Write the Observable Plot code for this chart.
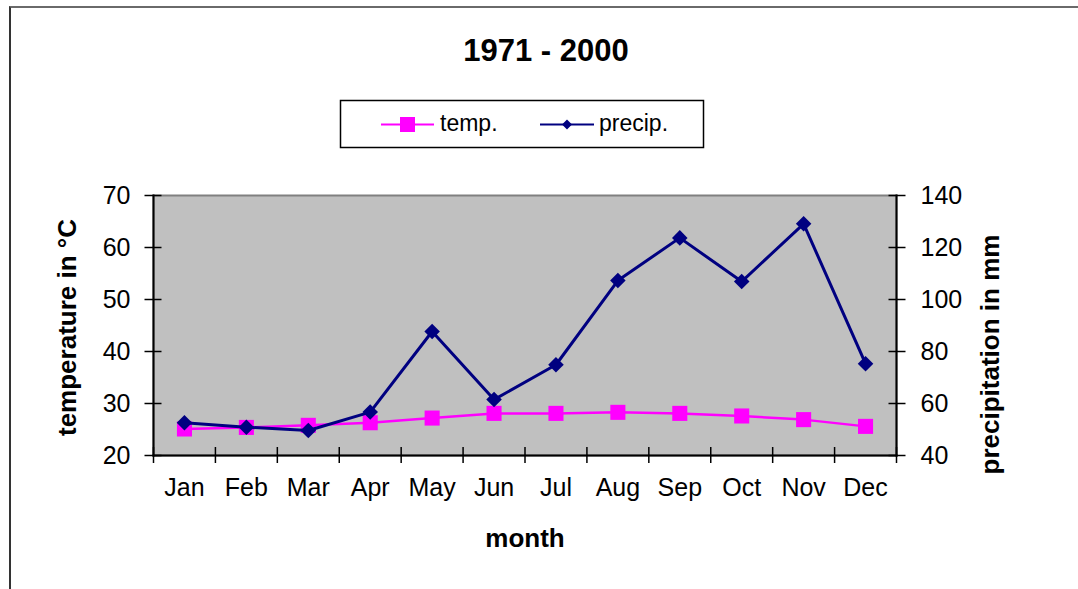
<!DOCTYPE html>
<html><head><meta charset="utf-8">
<script src="https://cdn.jsdelivr.net/npm/d3@7"></script>
<script src="https://cdn.jsdelivr.net/npm/@observablehq/plot@0.6"></script>
<style>
body{margin:0;background:#fff;font-family:"Liberation Sans",Arial,sans-serif;}
#wrap{position:relative;width:1078px;height:589px;overflow:hidden;}
#border{position:absolute;left:9px;top:6px;width:1200px;height:700px;border-top:2px solid #6a6a6a;border-left:2px solid #333;box-sizing:border-box;}
#chart{position:absolute;left:0;top:0;}
</style></head>
<body>
<div id="wrap"><div id="border"></div><div id="chart"></div></div>
<script>
// ---- data ----
const months = ["Jan","Feb","Mar","Apr","May","Jun","Jul","Aug","Sep","Oct","Nov","Dec"];
const temp   = [25.1, 25.4, 25.8, 26.3, 27.2, 28.1, 28.1, 28.3, 28.1, 27.6, 26.9, 25.6];
const precip = [52.6, 50.9, 49.6, 56.7, 87.7, 61.5, 74.9, 107.3, 123.7, 106.9, 129.1, 75.3];
const tempTicks   = [20, 30, 40, 50, 60, 70];
const precipTicks = [40, 60, 80, 100, 120, 140];
const title = "1971 - 2000";
const seriesNames = ["temp.", "precip."];
const yLabelLeft = "temperature in °C";
const yLabelRight = "precipitation in mm";
const xLabel = "month";

const tempColor = "#FF00FF";
const precipColor = "#000080";

// precipitation axis (40..140) maps linearly onto temperature axis (20..70)
const toLeft = p => 20 + (p - 40) / 2;

const rows = months.map((m, i) => ({month: m, idx: i + 0.5, temp: temp[i], precip: precip[i]}));
const boundaries = d3.range(months.length + 1);
const centers = months.map((m, i) => i + 0.5);
const precipTickPos = precipTicks.map(toLeft);

const txt = {textAnchor: "middle", lineAnchor: "middle", fontWeight: "bold", text: d => d};

const plot = Plot.plot({
  width: 1078, height: 589,
  marginLeft: 153, marginRight: 182, marginTop: 195, marginBottom: 134,
  style: {fontFamily: "'Liberation Sans', Arial, sans-serif", fontSize: "25px", background: "transparent", color: "#000"},
  x: {type: "linear", domain: [0, months.length], axis: null},
  y: {domain: [20, 70], axis: null},
  marks: [
    Plot.frame({fill: "#C0C0C0", stroke: "#808080", strokeWidth: 2}),
    Plot.frame({anchor: "left", stroke: "#000", strokeWidth: 2}),
    Plot.frame({anchor: "bottom", stroke: "#000", strokeWidth: 2}),
    Plot.frame({anchor: "right", stroke: "#000", strokeWidth: 2}),
    // left axis: crossing ticks + labels
    Plot.axisY({anchor: "left", ticks: tempTicks, tickSize: 17, dx: 8.5, tickFormat: () => "", label: null, strokeWidth: 1.5}),
    Plot.axisY({anchor: "left", ticks: tempTicks, tickSize: 0, tickPadding: 23, fontSize: 25, label: null}),
    // right axis (precipitation)
    Plot.axisY({anchor: "right", ticks: precipTickPos, tickSize: 17, dx: -8.5, tickFormat: () => "", label: null, strokeWidth: 1.5}),
    Plot.axisY({anchor: "right", ticks: precipTickPos, tickSize: 0, tickPadding: 24, fontSize: 25, label: null,
      tickFormat: t => String(precipTicks[precipTickPos.indexOf(t)])}),
    // x axis: boundary ticks + month labels
    Plot.axisX({anchor: "bottom", ticks: boundaries, tickSize: 16, dy: -8, tickFormat: () => "", label: null, strokeWidth: 1.5}),
    Plot.axisX({anchor: "bottom", ticks: centers, tickSize: 0, tickPadding: 23, fontSize: 25, label: null,
      tickFormat: v => months[Math.floor(v)]}),
    // axis titles
    Plot.text([yLabelLeft], {...txt, frameAnchor: "left", rotate: -90, dx: -86, dy: 2, fontSize: 26}),
    Plot.text([yLabelRight], {...txt, frameAnchor: "right", rotate: -90, dx: 94, dy: 29, fontSize: 26}),
    Plot.text([xLabel], {...txt, frameAnchor: "bottom", dy: 83, fontSize: 26}),
    Plot.text([title], {...txt, frameAnchor: "top", dx: 21, dy: -144, fontSize: 31}),
    // series
    Plot.line(rows, {x: "idx", y: "temp", stroke: tempColor, strokeWidth: 2.5}),
    Plot.dot(rows, {x: "idx", y: "temp", symbol: "square", r: 8.5, fill: tempColor, stroke: "none"}),
    Plot.line(rows, {x: "idx", y: d => toLeft(d.precip), stroke: precipColor, strokeWidth: 3}),
    Plot.dot(rows, {x: "idx", y: d => toLeft(d.precip), symbol: "square", rotate: 45, r: 6.2, fill: precipColor, stroke: "none"})
  ]
});
document.getElementById("chart").appendChild(plot);

// legend box (drawn into the same SVG)
const svg = d3.select(plot);
const lg = svg.append("g").attr("font-family", "'Liberation Sans', Arial, sans-serif").attr("font-size", 23).attr("text-anchor", "start");
lg.append("rect").attr("x", 340.5).attr("y", 100.5).attr("width", 363).attr("height", 47)
  .attr("fill", "#fff").attr("stroke", "#000").attr("stroke-width", 1.5);
const ly = 124.5;
lg.append("line").attr("x1", 381).attr("x2", 434).attr("y1", ly).attr("y2", ly).attr("stroke", tempColor).attr("stroke-width", 2);
lg.append("rect").attr("x", 400).attr("y", ly - 7.5).attr("width", 15).attr("height", 15).attr("fill", tempColor);
lg.append("text").attr("x", 440).attr("y", 131).attr("text-anchor", "start").text(seriesNames[0]);
lg.append("line").attr("x1", 540).attr("x2", 594).attr("y1", ly).attr("y2", ly).attr("stroke", precipColor).attr("stroke-width", 2);
lg.append("path").attr("d", d3.symbol(d3.symbolSquare, 50)()).attr("transform", `translate(567,${ly}) rotate(45)`).attr("fill", precipColor);
lg.append("text").attr("x", 599).attr("y", 131).attr("text-anchor", "start").text(seriesNames[1]);
</script>
</body></html>
